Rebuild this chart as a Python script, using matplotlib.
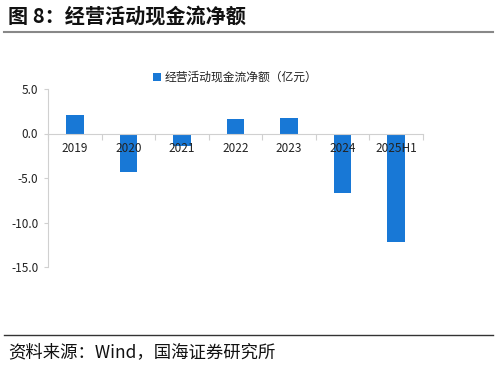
import matplotlib
matplotlib.use("Agg")
import matplotlib.pyplot as plt
from matplotlib.lines import Line2D
import numpy as np

plt.rcParams['font.family'] = ['Noto Sans CJK SC', 'DejaVu Sans']

categories = ["2019", "2020", "2021", "2022", "2023", "2024", "2025H1"]
values = [2.1, -4.3, -1.4, 1.65, 1.75, -6.7, -12.2]
yticks = [5.0, 0.0, -5.0, -10.0, -15.0]
series_name = "经营活动现金流净额（亿元）"
title = "图 8：经营活动现金流净额"
source = "资料来源：Wind，国海证券研究所"

bar_color = "#1878D6"

fig = plt.figure(figsize=(4.98, 3.65), dpi=100)
ax = fig.add_axes([48/498, 1-267/365, (423-48)/498, (267-89)/365])

x = np.arange(len(categories))
ax.bar(x, values, width=0.33, color=bar_color, label=series_name, zorder=1)
ax.set_axisbelow(False)

ax.set_xlim(-0.5, len(categories)-0.5)
ax.set_ylim(-15, 5)
ax.set_yticks(yticks)
ax.set_yticklabels([f"{v:.1f}" for v in yticks], fontsize=8.5, color="#222222")

for s in ["top", "right"]:
    ax.spines[s].set_visible(False)
ax.spines["left"].set_color("#d0d0d0")
ax.spines["bottom"].set_color("#d0d0d0")
ax.spines["bottom"].set_position(("data", 0))
ax.tick_params(axis="y", length=3, color="#d0d0d0", pad=4)

# x ticks at category boundaries, labels centered in categories
ax.set_xticks(np.arange(-0.5, len(categories)+0.5, 1.0))
ax.set_xticklabels([])
ax.set_xticks(x, minor=True)
ax.set_xticklabels(categories, minor=True, fontsize=8.5, color="#222222")
ax.tick_params(axis="x", which="major", length=4, color="#d0d0d0", direction="out")
ax.tick_params(axis="x", which="minor", length=0, pad=6)

leg = ax.legend(loc="upper center", bbox_to_anchor=(0.5, 1.16), frameon=False,
                fontsize=8.5, handlelength=0.7, handleheight=0.7, handletextpad=0.3)
for t in leg.get_texts():
    t.set_color("#222222")

fig.text(8/498, 1-16/365, title, fontsize=14.5, fontweight="bold", va="center", ha="left", color="#111111")
fig.add_artist(Line2D([4/498, 493/498], [1-32/365, 1-32/365], color="#888888", lw=1.5))
fig.add_artist(Line2D([4/498, 493/498], [1-335/365, 1-335/365], color="#333333", lw=1.0))
fig.text(8/498, 1-352/365, source, fontsize=12.5, va="center", ha="left", color="#111111")

fig.savefig("out.png", dpi=100)
